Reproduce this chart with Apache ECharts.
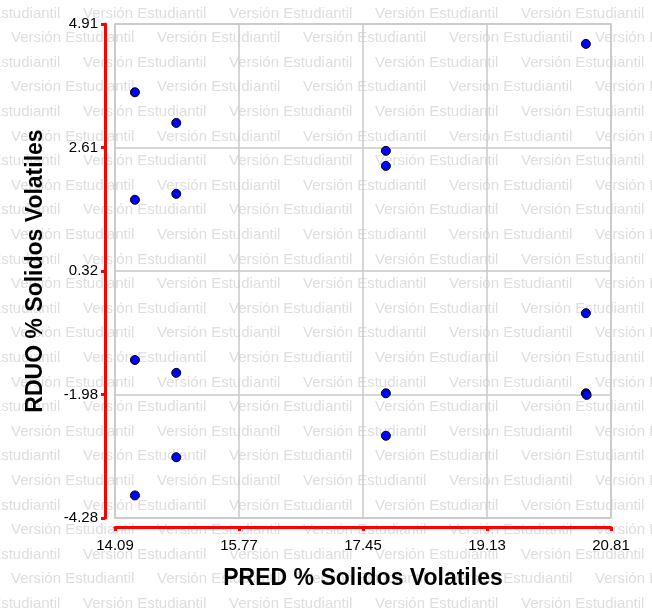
<!DOCTYPE html>
<html>
<head>
<meta charset="utf-8">
<script src="https://cdn.jsdelivr.net/npm/echarts@6/dist/echarts.min.js"></script>
<style>
html,body{margin:0;padding:0;background:#fff;}
#chart{width:652px;height:613px;}
</style>
</head>
<body>
<div id="chart"></div>
<script>
// ---- data ----
var predX = [14.36, 14.92, 14.36, 14.92, 14.36, 14.92, 14.92, 14.36, 20.47, 17.76, 17.76, 17.76, 17.76, 20.47, 20.47, 20.48];
var rduoY = [3.64, 3.07, 1.64, 1.75, -1.34, -1.58, -3.15, -3.86, 4.54, 2.55, 2.27, -1.96, -2.75, -0.47, -1.96, -1.99];
var xTickLabels = ['14.09', '15.77', '17.45', '19.13', '20.81'];
var yTickLabels = ['-4.28', '-1.98', '0.32', '2.61', '4.91'];
var xTitle = 'PRED % Solidos Volatiles';
var yTitle = 'RDUO % Solidos Volatiles';
var watermarkText = 'Versión Estudiantil';

var xMin = parseFloat(xTickLabels[0]), xMax = parseFloat(xTickLabels[xTickLabels.length - 1]);
var yMin = parseFloat(yTickLabels[0]), yMax = parseFloat(yTickLabels[yTickLabels.length - 1]);
var xInt = (xMax - xMin) / (xTickLabels.length - 1);
var yInt = (yMax - yMin) / (yTickLabels.length - 1);

function labelFor(arr, min, step) {
  return function (v) {
    var i = Math.round((v - min) / step);
    return arr[i] !== undefined ? arr[i] : '';
  };
}

// watermark rows
var wm = [];
for (var r = 0; r < 25; r++) {
  var y = 13.5 + 24.6 * r;
  var x0 = (r % 2 === 0) ? -63 : 11;
  for (var k = 0; k < 6; k++) {
    wm.push({
      type: 'text', silent: true, z: -10,
      x: x0 + 146 * k, y: y,
      style: {
        text: watermarkText, fill: '#dedede',
        fontSize: 15, fontFamily: '"Liberation Sans", Arial, sans-serif',
        verticalAlign: 'middle', align: 'left'
      }
    });
  }
}

var points = predX.map(function (x, i) { return [x, rduoY[i]]; });

var red = '#ff0000';
var chart = echarts.init(document.getElementById('chart'), null, {renderer: 'canvas'});
chart.setOption({
  backgroundColor: '#ffffff',
  animation: false,
  graphic: wm,
  grid: {
    left: 115, right: 41, top: 24, bottom: 95,
    show: true, borderColor: '#c8c8c8', borderWidth: 1.5,
    containLabel: false
  },
  xAxis: {
    type: 'value', min: xMin, max: xMax, interval: xInt,
    offset: 9,
    axisLine: {show: true, onZero: false, lineStyle: {color: red, width: 3}},
    axisTick: {show: true, inside: false, length: 4, lineStyle: {color: red, width: 3}},
    splitLine: {show: true, lineStyle: {color: '#c8c8c8', width: 1.5}},
    axisLabel: {
      formatter: labelFor(xTickLabels, xMin, xInt),
      color: '#000', fontSize: 15, fontFamily: '"Liberation Sans", Arial, sans-serif',
      margin: 11, showMinLabel: true, showMaxLabel: true
    },
    name: xTitle, nameLocation: 'middle', nameGap: 40,
    nameTextStyle: {color: '#000', fontSize: 23, fontWeight: 'bold', fontFamily: '"Liberation Sans", Arial, sans-serif'}
  },
  yAxis: {
    type: 'value', min: yMin, max: yMax, interval: yInt,
    offset: 10,
    axisLine: {show: true, onZero: false, lineStyle: {color: red, width: 3}},
    axisTick: {show: true, inside: false, length: 4, lineStyle: {color: red, width: 3}},
    splitLine: {show: true, lineStyle: {color: '#c8c8c8', width: 1.5}},
    axisLabel: {
      formatter: labelFor(yTickLabels, yMin, yInt),
      color: '#000', fontSize: 15, fontFamily: '"Liberation Sans", Arial, sans-serif',
      margin: 7, padding: [3, 0, 0, 0], showMinLabel: true, showMaxLabel: true
    },
    name: yTitle, nameLocation: 'middle', nameGap: 58, nameRotate: 90,
    nameTextStyle: {color: '#000', fontSize: 23, fontWeight: 'bold', fontFamily: '"Liberation Sans", Arial, sans-serif'}
  },
  series: [{
    type: 'scatter',
    data: points,
    symbol: 'circle',
    symbolSize: 9,
    itemStyle: {color: '#0000ff', borderColor: '#000', borderWidth: 1, opacity: 1}
  }]
});
</script>
</body>
</html>
